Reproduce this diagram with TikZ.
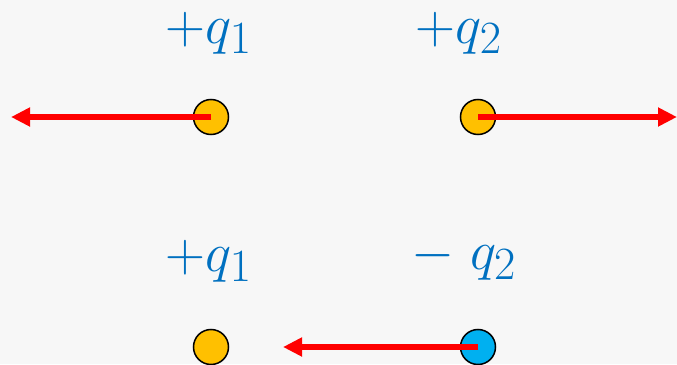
\documentclass[tikz,border=0pt]{standalone}
\usepackage{graphicx}
\usetikzlibrary{arrows.meta}
\definecolor{bgray}{HTML}{F7F7F7}
\definecolor{qblue}{HTML}{0070C0}
\definecolor{qorange}{HTML}{FFC000}
\definecolor{qcyan}{HTML}{00B0F0}
\newcommand{\chglbl}[1]{\scalebox{1.9}{$#1$}}
\begin{document}
\begin{tikzpicture}[
    x=0.03cm, y=-0.03cm,
    every node/.style={font=\Huge},
    lbl/.style={text=qblue, inner sep=0pt, anchor=base},
    charge/.style={circle, draw=black, line width=1.3pt, minimum size=1.05cm, inner sep=0pt},
    poscharge/.style={charge, fill=qorange},
    negcharge/.style={charge, fill=qcyan},
    force/.style={-{Triangle[length=0.57cm, width=0.54cm]}, line width=4.8pt, red},
]
\fill[bgray] (0,0) rectangle (677,364);
\useasboundingbox (0,0) rectangle (677,364);
% upper row: two positive charges
\node[poscharge] (a1) at (211,117) {};
\node[poscharge] (a2) at (478,117) {};
\node[lbl] (la1) at (209,43) {\chglbl{+q_1}};
\node[lbl] (la2) at (459,43) {\chglbl{+q_2}};
\coordinate (fa1) at (11,117);
\coordinate (fa2) at (677,117);
\draw[force] (a1.center) -- (fa1);
\draw[force] (a2.center) -- (fa2);
% lower row: positive and negative charge
\node[poscharge] (b1) at (211,347) {};
\node[negcharge] (b2) at (478,347) {};
\node[lbl] (lb1) at (209,271) {\chglbl{+q_1}};
\node[lbl] (lb2) at (464,269) {\chglbl{-\;q_2}};
\coordinate (fb2) at (283,347);
\draw[force] (b2.center) -- (fb2);
\end{tikzpicture}
\end{document}
